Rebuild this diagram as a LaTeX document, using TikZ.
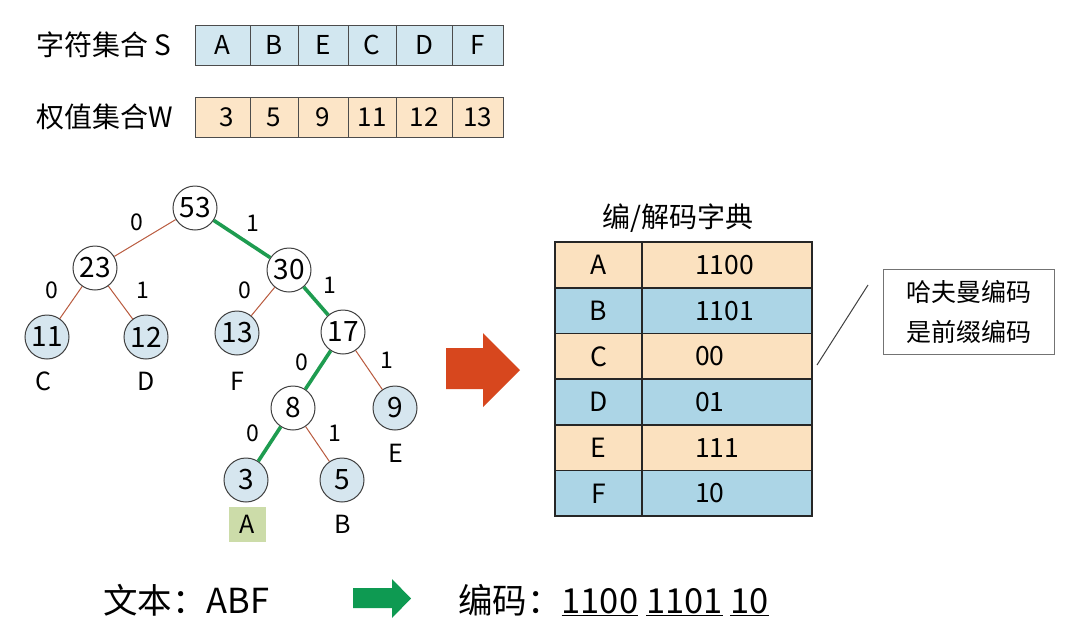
\documentclass[tikz,border=0pt]{standalone}
\usepackage{fontspec}
\setmainfont{Noto Sans CJK SC}
\definecolor{sblue}{HTML}{D2E7F0}
\definecolor{wpeach}{HTML}{FCE5C7}
\definecolor{tpeach}{HTML}{FBE1BF}
\definecolor{tblue}{HTML}{ACD5E6}
\definecolor{leafblue}{HTML}{D6E6EF}
\definecolor{zeroedge}{HTML}{B95A3E}
\definecolor{pathgreen}{HTML}{1E9C50}
\definecolor{hlgreen}{HTML}{CCDCA9}
\definecolor{bigorange}{HTML}{D7471E}
\definecolor{arrgreen}{HTML}{0E9A52}
\begin{document}
\begin{tikzpicture}[x=1pt,y=-1pt,
  lbl/.style={font=\fontsize{28}{32}\selectfont, inner sep=0pt, anchor=west},
  scell/.style={draw=black!70, line width=0.9pt, fill=sblue, minimum height=40pt, inner sep=0pt, font=\fontsize{26}{30}\selectfont},
  wcell/.style={scell, fill=wpeach},
  inner/.style={circle, draw=black!75, line width=1pt, fill=white, minimum size=44pt, inner sep=0pt, font=\fontsize{28}{30}\selectfont},
  leaf/.style={inner, fill=leafblue},
  leaflbl/.style={font=\fontsize{25}{28}\selectfont, inner sep=1pt},
  bit/.style={font=\fontsize{23}{26}\selectfont, inner sep=0pt},
  e0/.style={draw=zeroedge, line width=1pt},
  e1/.style={draw=pathgreen, line width=3.6pt},
  tcell/.style={draw=black!85, line width=1.4pt, minimum height=45.67pt, inner sep=0pt, font=\fontsize{26.5}{30}\selectfont},
  keycell/.style={tcell, minimum width=87pt},
  codecell/.style={tcell, minimum width=170pt, text width=64pt, align=left},
  bigtxt/.style={font=\fontsize{34.5}{38}\selectfont, inner sep=0pt, anchor=west}
]
\useasboundingbox[fill=white] (0,0) rectangle (1066,627);

% --- top sets ---
\node[lbl] (labS) at (36,45) {字符集合 S};
\node[lbl] (labW) at (36,117) {权值集合W};

\node[scell, minimum width=55pt] (s1) at (222.5,45) {A};
\node[scell, minimum width=48pt] (s2) at (274,45) {B};
\node[scell, minimum width=50pt] (s3) at (323,45) {E};
\node[scell, minimum width=48pt] (s4) at (372,45) {C};
\node[scell, minimum width=56pt] (s5) at (424,45) {D};
\node[scell, minimum width=51pt] (s6) at (477.5,45) {F};

\node[wcell, minimum width=55pt] (w1) at (222.5,117) {\hspace{8pt}3};
\node[wcell, minimum width=48pt] (w2) at (274,117) {5};
\node[wcell, minimum width=50pt] (w3) at (323,117) {9};
\node[wcell, minimum width=48pt] (w4) at (372,117) {11};
\node[wcell, minimum width=56pt] (w5) at (424,117) {12};
\node[wcell, minimum width=51pt] (w6) at (477.5,117) {13};

% --- Huffman tree ---
\node[inner] (n53) at (195,208) {53};
\node[inner] (n23) at (95,268) {23};
\node[inner] (n30) at (289,270) {30};
\node[leaf]  (n11) at (47,337) {11};
\node[leaf]  (n12) at (146,337) {12};
\node[leaf]  (n13) at (237,333) {13};
\node[inner] (n17) at (343,332) {17};
\node[inner] (n8)  at (293,408) {8};
\node[leaf]  (n9)  at (395,408) {9};
\node[leaf]  (n3)  at (246,480) {3};
\node[leaf]  (n5)  at (342,480) {5};

\draw[e0] (n53) -- (n23);
\draw[e1] (n53) -- (n30);
\draw[e0] (n23) -- (n11);
\draw[e0] (n23) -- (n12);
\draw[e0] (n30) -- (n13);
\draw[e1] (n30) -- (n17);
\draw[e1] (n17) -- (n8);
\draw[e0] (n17) -- (n9);
\draw[e1] (n8) -- (n3);
\draw[e0] (n8) -- (n5);

\node[bit] (b1) at (137,222) {0};
\node[bit] (b2) at (253,223) {1};
\node[bit] (b3) at (52,290) {0};
\node[bit] (b4) at (143,290) {1};
\node[bit] (b5) at (245,290) {0};
\node[bit] (b6) at (330,285) {1};
\node[bit] (b7) at (302,362) {0};
\node[bit] (b8) at (387,360) {1};
\node[bit] (b9) at (253,433) {0};
\node[bit] (b10) at (335,433) {1};

\node[leaflbl] (lC) at (43,381) {C};
\node[leaflbl] (lD) at (146,381) {D};
\node[leaflbl] (lF) at (237,381) {F};
\node[leaflbl] (lE) at (396,453) {E};
\node[leaflbl, fill=hlgreen, minimum width=37pt, minimum height=35pt, inner sep=0pt] (lA) at (247,524) {A};
\node[leaflbl] (lB) at (343,524) {B};

% --- big orange arrow ---
\fill[bigorange] (446,348) -- (483,348) -- (483,333) -- (520,370) -- (483,407) -- (483,389) -- (446,389) -- cycle;

% --- dictionary table ---
\node[font=\fontsize{28}{32}\selectfont, inner sep=0pt] (title) at (678,218) {编/解码字典};

\node[keycell, fill=tpeach] (kA) at (598.5,265) {A};
\node[codecell, fill=tpeach] (cA) at (727,265) {1100};
\node[keycell, fill=tblue] (kB) at (598.5,310.67) {B};
\node[codecell, fill=tblue] (cB) at (727,310.67) {1101};
\node[keycell, fill=tpeach] (kC) at (598.5,356.33) {C};
\node[codecell, fill=tpeach] (cC) at (727,356.33) {00};
\node[keycell, fill=tblue] (kD) at (598.5,402) {D};
\node[codecell, fill=tblue] (cD) at (727,402) {01};
\node[keycell, fill=tpeach] (kE) at (598.5,447.67) {E};
\node[codecell, fill=tpeach] (cE) at (727,447.67) {111};
\node[keycell, fill=tblue] (kF) at (598.5,493.33) {F};
\node[codecell, fill=tblue] (cF) at (727,493.33) {10};

% --- callout ---
\node[draw=black!55, line width=1pt, fill=white, minimum width=171pt, minimum height=85pt, align=center, font=\fontsize{25}{40}\selectfont, inner sep=0pt] (note) at (968.5,311.5) {哈夫曼编码\\是前缀编码};
\coordinate (np1) at (868,285);
\coordinate (np2) at (817,365);
\draw[black!75, line width=1pt] (np1) -- (np2);

% --- bottom line ---
\node[bigtxt] (txt) at (103,600) {文本：ABF};
\fill[arrgreen] (353,588) -- (392,588) -- (392,579) -- (411,598.5) -- (392,618) -- (392,608) -- (353,608) -- cycle;
\node[bigtxt] (enc) at (458,600) {编码：\underline{1100} \underline{1101} \underline{10}};
\end{tikzpicture}
\end{document}
